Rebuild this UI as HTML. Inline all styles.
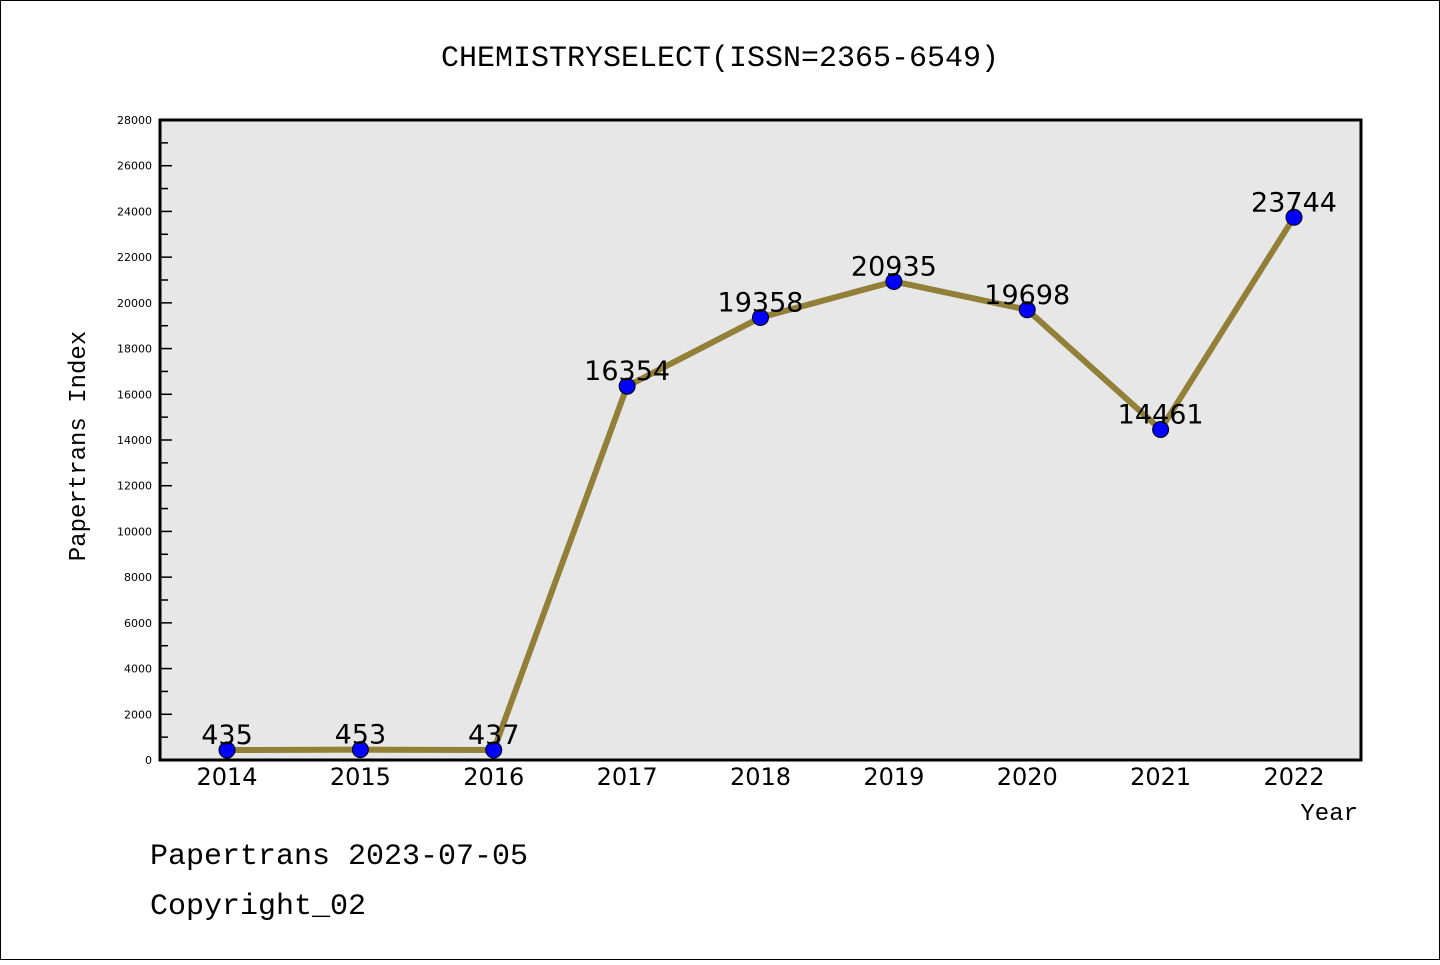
<!DOCTYPE html>
<html><head><meta charset="utf-8"><style>
body{margin:0;background:#fff}
svg text{font-family:"Liberation Mono","DejaVu Sans Mono",monospace}
svg text.sans{font-family:"DejaVu Sans","Liberation Sans",sans-serif}
</style></head><body>
<svg id="c" width="1440" height="960" xmlns="http://www.w3.org/2000/svg">
<rect x="0.5" y="0.5" width="1439" height="959" fill="#fff" stroke="#000"/>
<text x="720" y="66" text-anchor="middle" font-size="30">CHEMISTRYSELECT(ISSN=2365-6549)</text>
<rect x="160" y="120" width="1201" height="640" fill="#e7e7e7"/>
<g id="ticks"></g>
<g id="series"></g>
<rect x="160" y="120" width="1201" height="640" fill="none" stroke="#000" stroke-width="3"/>
<text transform="translate(85,446) rotate(-90)" text-anchor="middle" font-size="24">Papertrans Index</text>
<text x="1358" y="820" text-anchor="end" font-size="24">Year</text>
<text x="150" y="864" font-size="30">Papertrans 2023-07-05</text>
<text x="150" y="914" font-size="30">Copyright_02</text>
</svg>
<script>
const years=["2014","2015","2016","2017","2018","2019","2020","2021","2022"];
const values=[435,453,437,16354,19358,20935,19698,14461,23744];
const yTicks=[0,2000,4000,6000,8000,10000,12000,14000,16000,18000,20000,22000,24000,26000,28000];
const NS="http://www.w3.org/2000/svg";
const xs=i=>227+i*(1294-227)/(years.length-1);
const ys=v=>760-v*640/28000;
function mk(t,a,p){const e=document.createElementNS(NS,t);for(const k in a)e.setAttribute(k,a[k]);p.appendChild(e);return e;}
const tg=document.getElementById('ticks'),sg=document.getElementById('series');
yTicks.forEach((v,i)=>{
  const y=ys(v);
  const l=mk('line',{x1:160,x2:172,y1:y,y2:y,stroke:'#000','stroke-width':1.5},tg);
  
  
  const t=mk('text',{x:152,y:y+4,'text-anchor':'end','font-size':11,'class':'sans'},tg);
  t.textContent=v;
  
  
  if(i<yTicks.length-1){const ym=ys(v+1000);
    const m=mk('line',{x1:160,x2:168,y1:ym,y2:ym,stroke:'#000','stroke-width':1.5},tg);
    
    }
});
years.forEach((yr,i)=>{
  const t=mk('text',{x:xs(i),y:785,'text-anchor':'middle','font-size':24,'class':'sans'},tg);
  t.textContent=yr;
  
  
});
const pl=mk('polyline',{points:values.map((v,i)=>xs(i)+','+ys(v)).join(' '),fill:'none',stroke:'#927f38','stroke-width':6,'stroke-linejoin':'round'},sg);


values.forEach((v,i)=>{
  const c=mk('circle',{cx:xs(i),cy:ys(v),r:8,fill:'#0000ff',stroke:'#000','stroke-width':1},sg);
  
  
  const t=mk('text',{x:xs(i),y:ys(v)-6,'text-anchor':'middle','font-size':27,'class':'sans'},sg);
  t.textContent=v;
  
  
});
</script>
</body></html>
